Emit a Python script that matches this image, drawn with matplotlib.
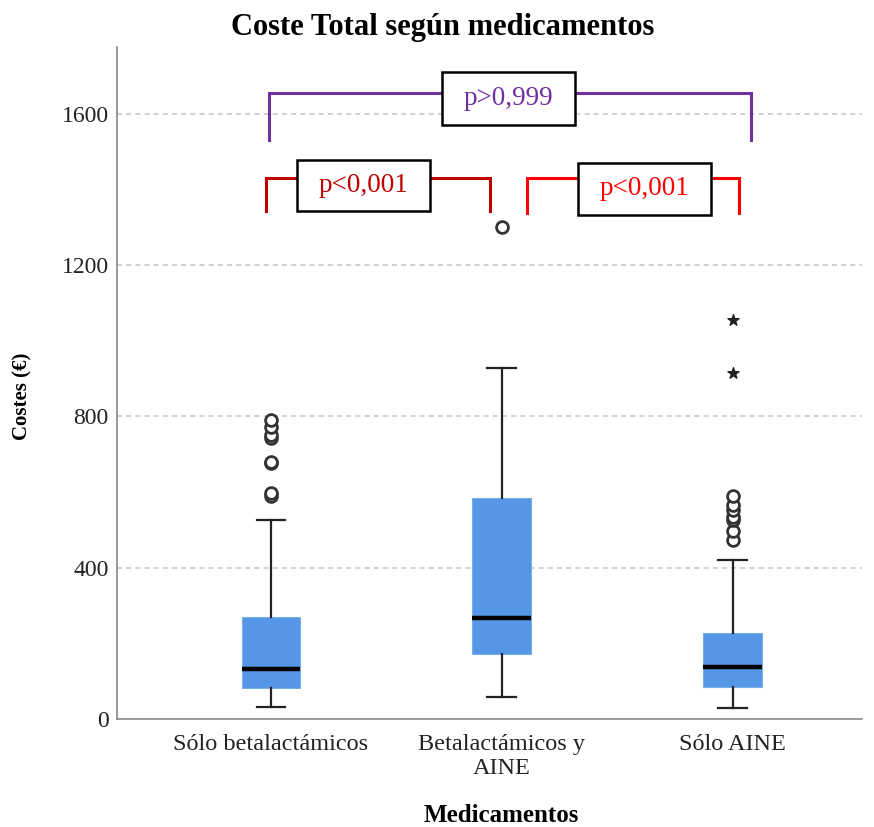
import matplotlib
matplotlib.use("Agg")
import matplotlib.pyplot as plt
from matplotlib.patches import Rectangle

# ---- data ----
categories = ["Sólo betalactámicos", "Betalactámicos y\nAINE", "Sólo AINE"]
whisker_low = [32, 59, 28]
q1 = [83, 171, 85]
median = [131, 266, 138]
q3 = [269, 585, 228]
whisker_high = [526, 928, 421]
outliers_1 = [590, 598, 676, 680, 742, 750, 773, 790]
outliers_2 = [1302]
outliers_3 = [474, 497, 526, 535, 553, 566, 590]
extremes_3 = [916, 1054]
y_ticks = [0, 400, 800, 1200, 1600]

# annotations: (x_left, x_right, y_top, y_bottom, label, colour, box_x0, box_x1, box_y0, box_y1)
brackets = [
    (-0.01, 2.08, 1655, 1532, "p>0,999", "#7030a0", 0.742, 1.316, 1571, 1710),
    (-0.022, 0.947, 1430, 1342, "p<0,001", "#c00000", 0.113, 0.688, 1342, 1479),
    (1.107, 2.029, 1430, 1339, "p<0,001", "#ff0000", 1.331, 1.906, 1333, 1470),
]

serif = ["Liberation Serif", "DejaVu Serif"]
plt.rcParams["font.family"] = serif

fig = plt.figure(figsize=(8.74, 8.27), dpi=100)
ax = fig.add_axes([0.1339, 0.1306, 0.8524, 0.8126])

stats = []
outs = [outliers_1, outliers_2, outliers_3]
for i in range(len(categories)):
    stats.append(dict(whislo=whisker_low[i], q1=q1[i], med=median[i], q3=q3[i],
                      whishi=whisker_high[i], fliers=outs[i], label=categories[i]))

ax.bxp(stats, positions=range(len(categories)), widths=0.255, patch_artist=True,
       boxprops=dict(facecolor="#5596e6", edgecolor="#7aaeea", linewidth=0.8),
       medianprops=dict(color="black", linewidth=3.2),
       whiskerprops=dict(color="#222222", linewidth=1.6),
       capprops=dict(color="#222222", linewidth=1.6),
       capwidths=0.125,
       flierprops=dict(marker="o", markerfacecolor="white", markeredgecolor="#333333",
                       markersize=8.5, markeredgewidth=2.0),
       zorder=3)
ax.scatter([2] * len(extremes_3), extremes_3, marker="*", s=70, color="#222222", zorder=4)

ax.set_xlim(-0.667, 2.56)
ax.set_ylim(0, 1777)
ax.set_yticks(y_ticks)
ax.set_yticklabels([str(v) for v in y_ticks], fontsize=17, color="#222222")
ax.set_xticks(range(len(categories)))
ax.set_xticklabels(categories, fontsize=17.5, color="#222222", linespacing=1.15)
ax.tick_params(axis="y", length=0, pad=6)
ax.tick_params(axis="x", length=0, pad=11)
for v in y_ticks[1:]:
    ax.axhline(v, color="#c8c8c8", linestyle=(0, (3, 2.5)), linewidth=1.2, zorder=0)

for s in ["top", "right"]:
    ax.spines[s].set_visible(False)
ax.spines["left"].set_color("#888888")
ax.spines["bottom"].set_color("#888888")
ax.spines["left"].set_linewidth(1.2)
ax.spines["bottom"].set_linewidth(1.2)

fig.text(443 / 874, 1 - 28 / 827, "Coste Total según medicamentos", fontsize=22,
         fontweight="bold", ha="center", va="center")
fig.text(22 / 874, 1 - 396 / 827, "Costes (€)", fontsize=15, fontweight="bold",
         rotation=90, ha="center", va="center")
fig.text(501 / 874, 1 - 815 / 827, "Medicamentos", fontsize=18, fontweight="bold",
         ha="center", va="center")

for xl, xr, yt, yb, lab, col, bx0, bx1, by0, by1 in brackets:
    ax.plot([xl, xl, xr, xr], [yb, yt, yt, yb], color=col, linewidth=2.2, zorder=5,
            solid_joinstyle="miter", clip_on=False)
    ax.add_patch(Rectangle((bx0, by0), bx1 - bx0, by1 - by0, facecolor="white",
                           edgecolor="black", linewidth=1.8, zorder=6))
    ax.text((bx0 + bx1) / 2, (by0 + by1) / 2, lab, color=col, fontsize=19.5,
            ha="center", va="center", zorder=7)

fig.savefig("out.png", dpi=100)
